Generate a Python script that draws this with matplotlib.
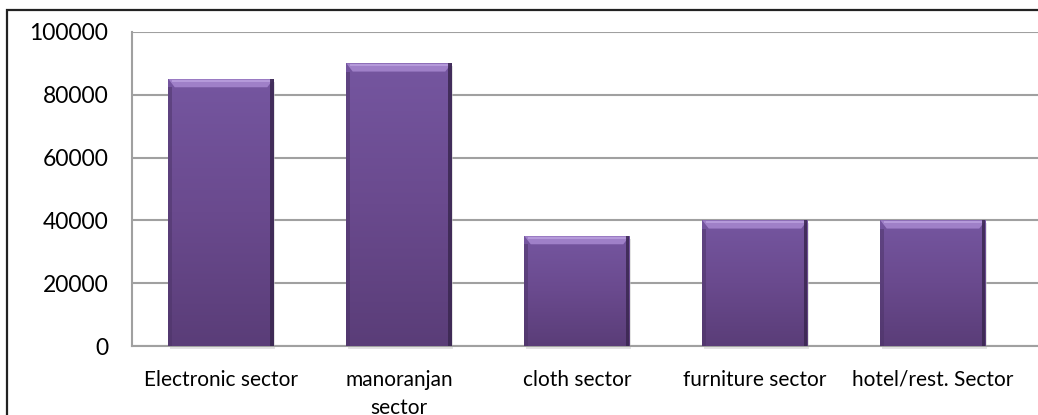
import numpy as np
import matplotlib.pyplot as plt
from matplotlib.patches import Rectangle, Polygon
from matplotlib.colors import LinearSegmentedColormap

# Datos
sectores = ["Electronic sector", "manoranjan\nsector", "cloth sector",
            "furniture sector", "hotel/rest. Sector"]
valores = [85000, 90000, 35000, 40000, 40000]
yticks = [0, 20000, 40000, 60000, 80000, 100000]

plt.rcParams['font.family'] = ['Lato', 'DejaVu Sans']

fig = plt.figure(figsize=(10.38, 4.15), dpi=100)
ax = fig.add_axes([132 / 1038, 1 - 346 / 415, (1038 - 132) / 1038, (346 - 32) / 415])

x = np.arange(len(sectores))
ancho = 0.59
barras = ax.bar(x, valores, width=ancho, color="none", edgecolor="none", zorder=3)

# degradado vertical de cada barra
cmap = LinearSegmentedColormap.from_list("morado", ["#5a3d78", "#6a4a8e", "#7556a0"])
grad = np.linspace(0, 1, 256).reshape(-1, 1)
bisel = 2600
lado = 0.035
for b in barras:
    x0, w, h = b.get_x(), b.get_width(), b.get_height()
    im = ax.imshow(grad, cmap=cmap, aspect="auto", origin="lower",
                   extent=[x0, x0 + w, 0, h], zorder=3)
    im.set_clip_path(b)
    # bisel superior
    ax.add_patch(Polygon([(x0, h), (x0 + w, h), (x0 + w - lado, h - bisel), (x0 + lado, h - bisel)],
                         closed=True, color="#9f80c8", zorder=4, lw=0))
    ax.add_patch(Rectangle((x0 + 0.02, h - 900), w - 0.04, 700, color="#b59ada", zorder=4, lw=0))
    # bordes laterales
    ax.add_patch(Rectangle((x0, 0), 0.02, h - bisel, color="#4b3366", alpha=0.5, zorder=4, lw=0))
    ax.add_patch(Rectangle((x0 + w - 0.022, 0), 0.022, h, color="#3a2750", alpha=0.85, zorder=4, lw=0))
    # sombra
    ax.add_patch(Rectangle((x0 + 0.01, -900), w, h, color="#c8c8c8", alpha=0.5, zorder=2, lw=0, clip_on=False))

ax.set_xlim(-0.5, 4.59)
ax.set_ylim(0, 100000)
ax.set_yticks(yticks)
ax.set_yticklabels([str(v) for v in yticks], fontsize=16.5)
ax.set_xticks(x)
ax.set_xticklabels(sectores, fontsize=15, linespacing=1.5)
ax.tick_params(axis="both", length=0, colors="#000000")
ax.tick_params(axis="y", pad=17)
ax.tick_params(axis="x", pad=17)
ax.yaxis.grid(True, color="#a0a0a0", lw=1.5, zorder=1)
ax.set_axisbelow(True)
for s in ["top", "right"]:
    ax.spines[s].set_visible(False)
for s in ["left", "bottom"]:
    ax.spines[s].set_color("#a0a0a0")
    ax.spines[s].set_linewidth(1.5)

# marco exterior
fig.patches.append(Rectangle((7 / 1038, -0.1), 1.2, 1 - 10 / 415 + 0.1, transform=fig.transFigure,
                             fill=False, edgecolor="#222222", lw=1.6))

plt.savefig("out.png", dpi=100)
